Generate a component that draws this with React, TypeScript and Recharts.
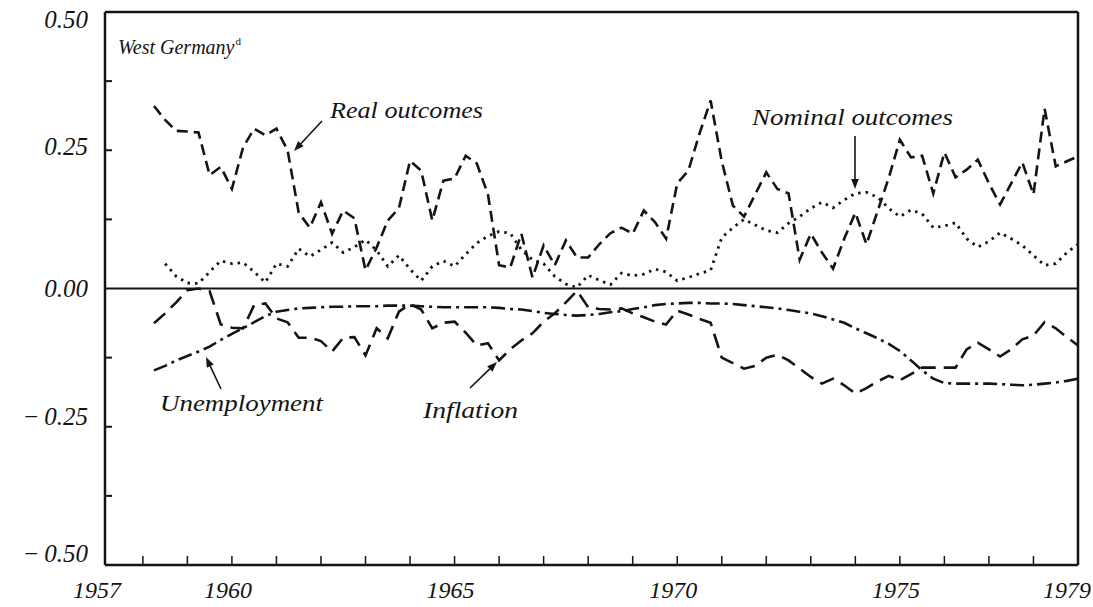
import { LineChart, Line, XAxis, YAxis, ReferenceLine } from "recharts";

// quarterly observations, 1958 Q2 .. 1979 Q1
const quarters = [
  1958.25, 1958.5, 1958.75,
  1959, 1959.25, 1959.5, 1959.75, 1960, 1960.25, 1960.5, 1960.75,
  1961, 1961.25, 1961.5, 1961.75, 1962, 1962.25, 1962.5, 1962.75,
  1963, 1963.25, 1963.5, 1963.75, 1964, 1964.25, 1964.5, 1964.75,
  1965, 1965.25, 1965.5, 1965.75, 1966, 1966.25, 1966.5, 1966.75,
  1967, 1967.25, 1967.5, 1967.75, 1968, 1968.25, 1968.5, 1968.75,
  1969, 1969.25, 1969.5, 1969.75, 1970, 1970.25, 1970.5, 1970.75,
  1971, 1971.25, 1971.5, 1971.75, 1972, 1972.25, 1972.5, 1972.75,
  1973, 1973.25, 1973.5, 1973.75, 1974, 1974.25, 1974.5, 1974.75,
  1975, 1975.25, 1975.5, 1975.75, 1976, 1976.25, 1976.5, 1976.75,
  1977, 1977.25, 1977.5, 1977.75, 1978, 1978.25, 1978.5, 1978.75,
  1979,
];

const realOutcomes = [
  0.33, 0.305, 0.285,
  0.284, 0.282, 0.205, 0.22, 0.18, 0.255, 0.289, 0.277,
  0.289, 0.25, 0.137, 0.11, 0.156, 0.099, 0.141, 0.127,
  0.033, 0.074, 0.123, 0.145, 0.231, 0.213, 0.123, 0.195,
  0.199, 0.24, 0.226, 0.17, 0.042, 0.038, 0.099, 0.02,
  0.078, 0.042, 0.087, 0.056, 0.056, 0.08, 0.1, 0.11,
  0.099, 0.141, 0.12, 0.09, 0.19, 0.213, 0.28, 0.34,
  0.23, 0.15, 0.13, 0.17, 0.21, 0.18, 0.172, 0.052,
  0.099, 0.065, 0.036, 0.09, 0.137, 0.08, 0.14, 0.2,
  0.269, 0.237, 0.24, 0.172, 0.246, 0.201, 0.215, 0.233,
  0.19, 0.152, 0.19, 0.228, 0.17, 0.325, 0.221, 0.23,
  0.239,
];

const nominalOutcomes = [
  null, 0.045, 0.022,
  0.01, 0.009, 0.03, 0.05, 0.045, 0.047, 0.03, 0.011,
  0.045, 0.04, 0.072, 0.058, 0.07, 0.083, 0.065, 0.075,
  0.088, 0.069, 0.04, 0.06, 0.035, 0.014, 0.04, 0.05,
  0.04, 0.062, 0.082, 0.095, 0.103, 0.1, 0.07, 0.052,
  0.045, 0.022, 0.008, 0.002, 0.024, 0.015, 0.007, 0.028,
  0.023, 0.026, 0.035, 0.03, 0.014, 0.02, 0.027, 0.033,
  0.092, 0.11, 0.125, 0.115, 0.105, 0.101, 0.118, 0.13,
  0.145, 0.156, 0.146, 0.16, 0.172, 0.174, 0.165, 0.145,
  0.13, 0.142, 0.135, 0.11, 0.113, 0.119, 0.09, 0.075,
  0.085, 0.101, 0.09, 0.078, 0.06, 0.042, 0.045, 0.065,
  0.08,
];

const unemployment = [
  -0.148, -0.14, -0.13,
  -0.122, -0.114, -0.105, -0.093, -0.082, -0.072, -0.061, -0.05,
  -0.042, -0.039, -0.036, -0.035, -0.034, -0.033, -0.033, -0.032,
  -0.032, -0.032, -0.031, -0.031, -0.031, -0.032, -0.033, -0.034,
  -0.034, -0.034, -0.034, -0.034, -0.035, -0.037, -0.038, -0.041,
  -0.044, -0.046, -0.048, -0.049, -0.048, -0.046, -0.043, -0.041,
  -0.037, -0.034, -0.03, -0.028, -0.027, -0.026, -0.026, -0.027,
  -0.027, -0.028, -0.03, -0.032, -0.034, -0.036, -0.039, -0.042,
  -0.045, -0.05, -0.056, -0.062, -0.072, -0.081, -0.09, -0.1,
  -0.113, -0.13, -0.148, -0.163, -0.171, -0.172, -0.172, -0.172,
  -0.172, -0.173, -0.174, -0.175, -0.174, -0.172, -0.17, -0.167,
  -0.163,
];

const inflation = [
  -0.063, -0.045, -0.025,
  -0.003, 0.0, -0.005, -0.065, -0.071, -0.072, -0.03, -0.027,
  -0.054, -0.061, -0.089, -0.089, -0.095, -0.114, -0.089, -0.088,
  -0.121, -0.072, -0.09, -0.042, -0.028, -0.038, -0.072, -0.062,
  -0.06, -0.08, -0.103, -0.099, -0.13, -0.11, -0.094, -0.081,
  -0.06, -0.045, -0.025, -0.004, -0.034, -0.037, -0.038, -0.036,
  -0.045, -0.052, -0.06, -0.065, -0.04, -0.047, -0.055, -0.062,
  -0.125, -0.135, -0.145, -0.14, -0.125, -0.12, -0.13, -0.145,
  -0.16, -0.172, -0.163, -0.175, -0.19, -0.18, -0.168, -0.158,
  -0.166, -0.155, -0.143, -0.143, -0.143, -0.143, -0.11, -0.098,
  -0.11, -0.123, -0.11, -0.092, -0.085, -0.061, -0.072, -0.088,
  -0.103,
];

const xTicks = [1957.15, 1958, 1959, 1960, 1961, 1962, 1963, 1964, 1965, 1966, 1967, 1968,
  1969, 1970, 1971, 1972, 1973, 1974, 1975, 1976, 1977, 1978, 1979];
const xLabels: Record<string, string> = {
  "1957.15": "1957", "1960": "1960", "1965": "1965", "1970": "1970", "1975": "1975", "1979": "1979",
};
const yTicks = [-0.5, -0.375, -0.25, -0.125, 0, 0.125, 0.25, 0.375, 0.5];
// the scanned labels sit a little off their ticks
const yLabelShift: Record<string, number> = { "0.5": 8, "0.25": -3, "0": 0, "-0.25": -10, "-0.5": -11 };

const data = quarters.map((t, i) => ({
  t,
  real: realOutcomes[i],
  nominal: nominalOutcomes[i],
  unemployment: unemployment[i],
  inflation: inflation[i],
}));

const INK = "#141414";
const FONT = "'Liberation Serif', 'DejaVu Serif', serif";

const XTick = (props: any) => {
  const { x, y, payload } = props;
  const v = payload.value;
  const label = xLabels[String(v)];
  const inner = v > 1957.5 && v < 1978.9;
  let tx = x - 4;
  let anchor = "middle";
  if (v < 1957.5) tx = x - 8;
  if (v > 1978.9) { tx = 1091; anchor = "end"; }
  return (
    <g>
      {inner && <line x1={x} y1={y} x2={x} y2={y - 9} stroke={INK} strokeWidth={1.5} />}
      {label && (
        <text x={tx} y={y + 33} textAnchor={anchor}
          fontFamily={FONT} fontStyle="italic" fontSize={24} fill={INK}>
          {label}
        </text>
      )}
    </g>
  );
};

const YTick = (props: any) => {
  const { x, y, payload } = props;
  const v = payload.value;
  const major = Math.abs(v * 4 - Math.round(v * 4)) < 1e-6;
  const label = v < 0 ? "\u2212" + "\u2009" + Math.abs(v).toFixed(2) : v.toFixed(2);
  const shift = yLabelShift[String(v)] ?? 0;
  return (
    <g>
      {Math.abs(v) < 0.49 && v !== 0 && (
        <line x1={x} y1={y} x2={x + 7} y2={y} stroke={INK} strokeWidth={2} />
      )}
      {major && (
        <text x={x - 17} y={y + 8 + shift} textAnchor="end"
          fontFamily={FONT} fontStyle="italic" fontSize={25} fill={INK}>
          {label}
        </text>
      )}
    </g>
  );
};

const Arrow = ({ x1, y1, x2, y2 }: { x1: number; y1: number; x2: number; y2: number }) => {
  const a = Math.atan2(y2 - y1, x2 - x1);
  const len = 10;
  const w = 3.8;
  const bx = x2 - len * Math.cos(a);
  const by = y2 - len * Math.sin(a);
  const p1 = `${bx + w * Math.sin(a)},${by - w * Math.cos(a)}`;
  const p2 = `${bx - w * Math.sin(a)},${by + w * Math.cos(a)}`;
  return (
    <g>
      <line x1={x1} y1={y1} x2={bx} y2={by} stroke={INK} strokeWidth={1.6} />
      <polygon points={`${x2},${y2} ${p1} ${p2}`} fill={INK} />
    </g>
  );
};

const textStyle = { fontFamily: FONT, fontStyle: "italic" as const, fontSize: 24, fill: INK };

export default function App() {
  return (
    <div style={{ position: "absolute", left: 0, top: 0, background: "#fff" }}>
      <LineChart width={1093} height={607} data={data} margin={{ top: 12, right: 15, bottom: 6, left: 0 }}>
        <XAxis dataKey="t" type="number" domain={[1957.15, 1979]} ticks={xTicks} interval={0}
          tick={<XTick />} tickLine={false} tickSize={0} tickMargin={0} height={36}
          axisLine={{ stroke: INK, strokeWidth: 2.5 }} />
        <YAxis type="number" domain={[-0.5, 0.5]} ticks={yTicks} interval={0}
          tick={<YTick />} tickLine={false} tickSize={0} tickMargin={0} width={105}
          axisLine={{ stroke: INK, strokeWidth: 2.5 }} />
        <ReferenceLine y={0.5} stroke={INK} strokeWidth={2.5} />
        <ReferenceLine x={1979} stroke={INK} strokeWidth={2.5} />
        <ReferenceLine y={0} stroke={INK} strokeWidth={2} />
        <Line dataKey="real" type="linear" stroke={INK} strokeWidth={2.6} strokeDasharray="11 6"
          dot={false} isAnimationActive={false} />
        <Line dataKey="nominal" type="linear" stroke={INK} strokeWidth={2.8} strokeDasharray="2.5 5"
          dot={false} isAnimationActive={false} />
        <Line dataKey="unemployment" type="linear" stroke={INK} strokeWidth={2.6} strokeDasharray="14 5 3 5"
          dot={false} isAnimationActive={false} />
        <Line dataKey="inflation" type="linear" stroke={INK} strokeWidth={2.6} strokeDasharray="15 8"
          dot={false} isAnimationActive={false} />
        <g>
          <text x={118} y={54} {...textStyle} fontSize={20}>
            West Germany
            <tspan dx={1} dy={-9} fontSize={11} fontStyle="normal">d</tspan>
          </text>
          <text x={330} y={118} {...textStyle} textLength={153} lengthAdjust="spacingAndGlyphs">Real outcomes</text>
          <Arrow x1={322} y1={121} x2={294} y2={151} />
          <text x={752} y={125} {...textStyle} textLength={201} lengthAdjust="spacingAndGlyphs">Nominal outcomes</text>
          <Arrow x1={855} y1={136} x2={855} y2={189} />
          <text x={160} y={411} {...textStyle} textLength={163} lengthAdjust="spacingAndGlyphs">Unemployment</text>
          <Arrow x1={221} y1={389} x2={206} y2={357} />
          <text x={423} y={418} {...textStyle} textLength={95} lengthAdjust="spacingAndGlyphs">Inflation</text>
          <Arrow x1={470} y1={388} x2={497} y2={362} />
        </g>
      </LineChart>
    </div>
  );
}
